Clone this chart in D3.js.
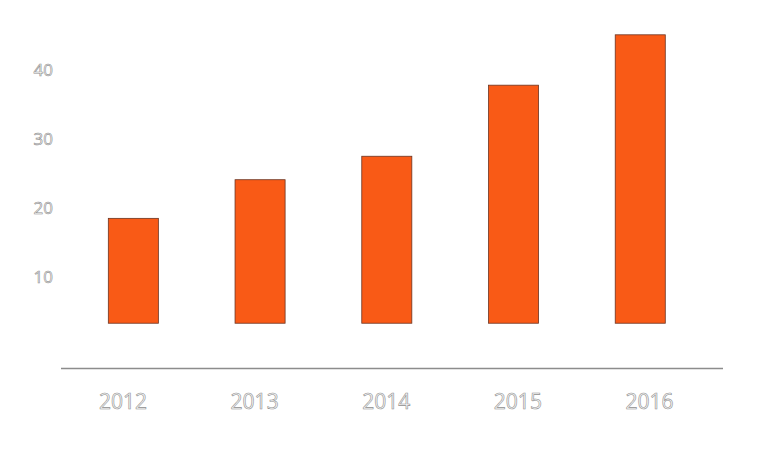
<!DOCTYPE html>
<html><head><meta charset="utf-8">
<script src="https://cdn.jsdelivr.net/npm/d3@7"></script>
<style>body{margin:0;background:#fff}svg{display:block}</style>
</head><body>
<script>
const categories = ["2012","2013","2014","2015","2016"];
const values = [18.5, 24.1, 27.5, 37.8, 45.1];
const baseValue = 3.3;
const yTicks = [10, 20, 30, 40];

const W = 759, H = 450;
const svg = d3.select("body").append("svg").attr("width", W).attr("height", H);

const y = d3.scaleLinear().domain([0, 40]).range([346, 70]);
const x = d3.scaleBand().domain(categories).range([70.3, 703.3]).paddingInner(0.605).paddingOuter(0.3);
const xl = d3.scalePoint().domain(categories).range([123, 649.5]);

svg.append("g").selectAll("rect").data(values).join("rect")
  .attr("x", (d,i) => x(categories[i]))
  .attr("width", x.bandwidth())
  .attr("y", d => y(d))
  .attr("height", d => y(baseValue) - y(d))
  .attr("fill", "#F95A16")
  .attr("stroke", "#6a3422")
  .attr("stroke-width", 0.8);

svg.append("line").attr("x1", 61).attr("x2", 723).attr("y1", 368.5).attr("y2", 368.5)
  .attr("stroke", "#8c8c8c").attr("stroke-width", 1.5);

const textStyle = s => s.attr("font-family", "'Open Sans', sans-serif")
  .attr("fill", "#fafafa").attr("stroke", "#8f8f8f").attr("stroke-width", 0.6);

svg.append("g").selectAll("text").data(categories).join("text")
  .attr("x", d => xl(d)).attr("y", 409).attr("text-anchor", "middle")
  .attr("font-size", 21).text(d => d).call(textStyle);

svg.append("g").selectAll("text").data(yTicks).join("text")
  .attr("x", 53).attr("y", d => y(d) + 6).attr("text-anchor", "end")
  .attr("font-size", 17).text(d => d).call(textStyle);
</script>
</body></html>
